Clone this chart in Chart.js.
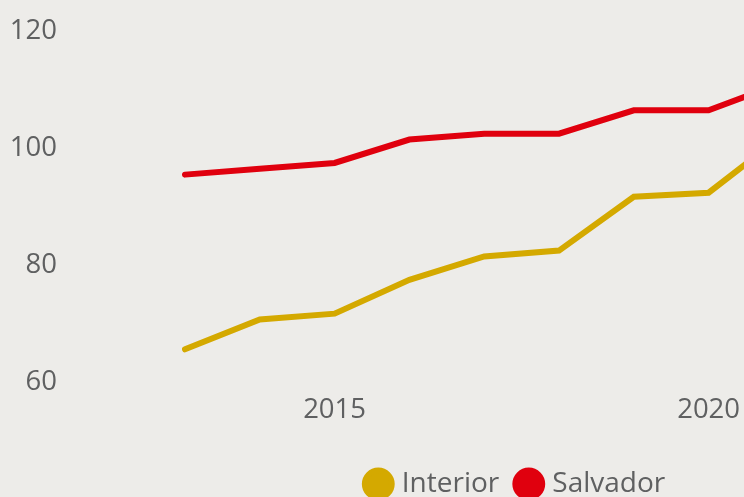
<!DOCTYPE html>
<html>
<head>
<meta charset="utf-8">
<script src="https://cdn.jsdelivr.net/npm/chart.js@4/dist/chart.umd.min.js"></script>
<style>
  html, body { margin: 0; padding: 0; background: #edece9; overflow: hidden; width: 744px; height: 497px; }
  #wrap { position: relative; width: 744px; height: 497px; overflow: hidden; }
  canvas { display: block; }
</style>
</head>
<body>
<div id="wrap"><canvas id="c" width="1034" height="508"></canvas></div>
<script>
const years = [2013, 2014, 2015, 2016, 2017, 2018, 2019, 2020, 2021];
const interior = [65.6, 70.7, 71.7, 77.5, 81.5, 82.5, 91.7, 92.4, 102.3];
const salvador = [95.5, 96.5, 97.5, 101.5, 102.5, 102.5, 106.5, 106.5, 111.3];
const xTickLabels = [2015, 2020];
const yTickLabels = [60, 80, 100, 120];
const seriesNames = ['Interior', 'Salvador'];

const textColor = '#5f6061';
const fontFamily = "'Open Sans', 'Noto Sans', sans-serif";

const toPoints = vals => years.map((y, i) => ({ x: y, y: vals[i] }));

new Chart(document.getElementById('c'), {
  type: 'line',
  data: {
    datasets: [
      { label: seriesNames[0], data: toPoints(interior), borderColor: '#d4a900', backgroundColor: '#d4a900',
        borderWidth: 6, pointRadius: 0, borderCapStyle: 'round', tension: 0 },
      { label: seriesNames[1], data: toPoints(salvador), borderColor: '#e0000e', backgroundColor: '#e0000e',
        borderWidth: 6, pointRadius: 0, borderCapStyle: 'round', tension: 0 }
    ]
  },
  options: {
    responsive: false,
    animation: false,
    layout: { padding: { top: 31.5, right: 0, left: 0, bottom: 0 } },
    plugins: {
      tooltip: { enabled: false },
      legend: {
        position: 'bottom',
        labels: {
          usePointStyle: true, pointStyle: 'circle',
          boxWidth: 19, boxHeight: 19,
          color: textColor, font: { family: fontFamily, size: 28 },
          padding: 20
        }
      }
    },
    scales: {
      x: {
        type: 'linear',
        min: 2011.436, max: 2024.35,
        grid: { display: false, drawTicks: false },
        border: { display: false },
        afterBuildTicks: s => { s.ticks = xTickLabels.map(v => ({ value: v })); },
        afterFit: s => { s.height = 68; },
        ticks: { color: textColor, font: { family: fontFamily, size: 27.5 }, padding: 12,
                 maxRotation: 0, autoSkip: false, callback: v => String(v) }
      },
      y: {
        min: 60, max: 120,
        grid: { display: false, drawTicks: false },
        border: { display: false },
        afterBuildTicks: s => { s.ticks = yTickLabels.map(v => ({ value: v })); },
        afterFit: s => { s.width = 68; },
        ticks: { color: textColor, font: { family: fontFamily, size: 27.5 }, padding: 11,
                 callback: v => String(v) }
      }
    }
  }
});
</script>
</body>
</html>
